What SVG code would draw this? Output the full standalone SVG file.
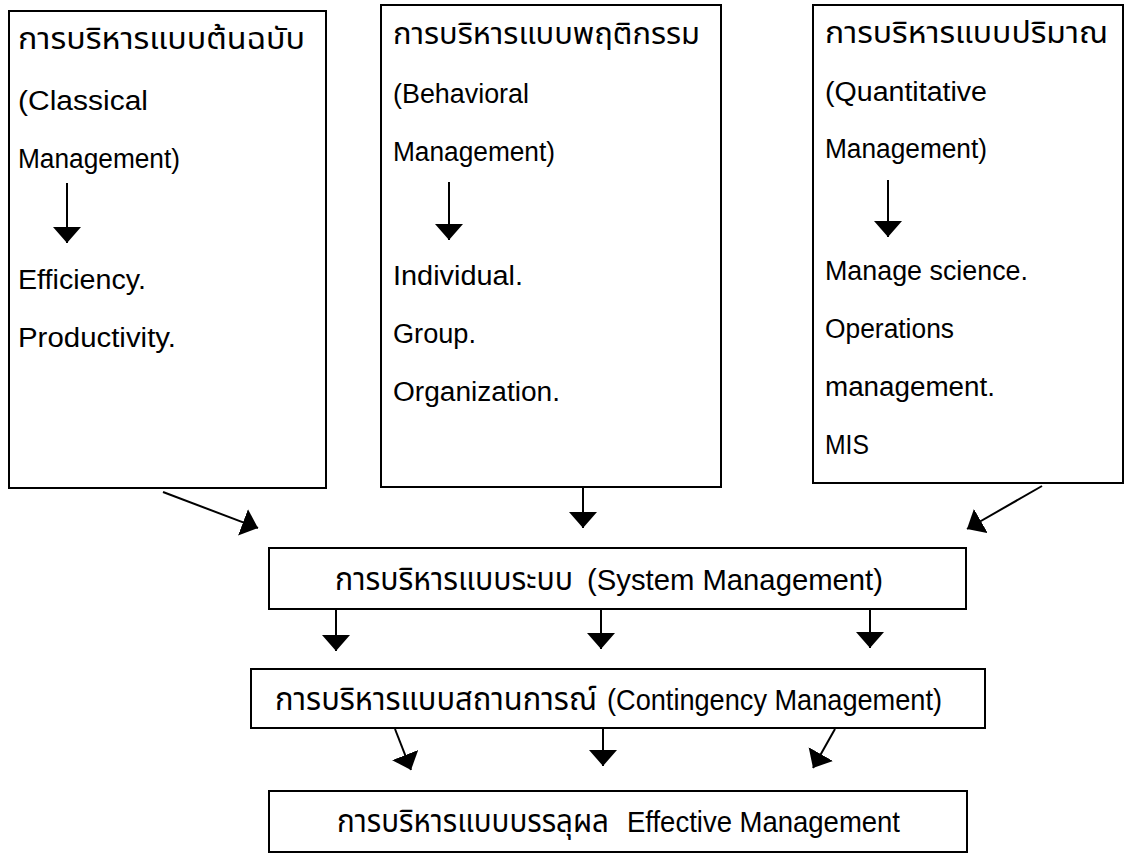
<svg xmlns="http://www.w3.org/2000/svg" width="1125" height="854" viewBox="0 0 1125 854">
  <defs>
    <style>
      .box { fill: #ffffff; stroke: #000000; stroke-width: 2; }
      .t { font-family: "Liberation Sans", "Noto Sans", sans-serif; font-size: 27px; fill: #000000; }
      .th { font-family: "Liberation Sans", "Noto Sans Thai", "Noto Sans", "DejaVu Sans", sans-serif; font-size: 31px; fill: #000000; }
      .tb { font-family: "Liberation Sans", "Noto Sans", sans-serif; font-size: 29px; fill: #000000; }
      .thb { font-family: "Liberation Sans", "Noto Sans Thai", "Noto Sans", "DejaVu Sans", sans-serif; font-size: 32px; fill: #000000; }
      .conn { stroke: #000000; stroke-width: 2; fill: none; marker-end: url(#head); }
    </style>
    <marker id="head" markerUnits="userSpaceOnUse" viewBox="0 0 16 28" refX="16" refY="14" markerWidth="16" markerHeight="28" orient="auto">
      <path d="M0,0 L16,14 L0,28 Z" fill="#000000"/>
    </marker>
  </defs>
  <rect width="1125" height="854" fill="#ffffff"/>

  <!-- top row: three schools of management -->
  <g id="classical">
    <rect class="box" x="9" y="11" width="317" height="477"/>
    <text class="th" x="18" y="49" textLength="287" lengthAdjust="spacingAndGlyphs">การบริหารแบบต้นฉบับ</text>
    <text class="t" x="18" y="110" textLength="130" lengthAdjust="spacingAndGlyphs">(Classical</text>
    <text class="t" x="18" y="168" textLength="162" lengthAdjust="spacingAndGlyphs">Management)</text>
    <text class="t" x="18" y="289" textLength="128" lengthAdjust="spacingAndGlyphs">Efficiency.</text>
    <text class="t" x="18" y="347" textLength="158" lengthAdjust="spacingAndGlyphs">Productivity.</text>
  </g>

  <g id="behavioral">
    <rect class="box" x="381" y="5" width="340" height="482"/>
    <text class="th" x="393" y="44" textLength="307" lengthAdjust="spacingAndGlyphs">การบริหารแบบพฤติกรรม</text>
    <text class="t" x="393" y="103" textLength="136" lengthAdjust="spacingAndGlyphs">(Behavioral</text>
    <text class="t" x="393" y="161" textLength="162" lengthAdjust="spacingAndGlyphs">Management)</text>
    <text class="t" x="393" y="285" textLength="130" lengthAdjust="spacingAndGlyphs">Individual.</text>
    <text class="t" x="393" y="343" textLength="83" lengthAdjust="spacingAndGlyphs">Group.</text>
    <text class="t" x="393" y="401" textLength="167" lengthAdjust="spacingAndGlyphs">Organization.</text>
  </g>

  <g id="quantitative">
    <rect class="box" x="813" y="5" width="310" height="478"/>
    <text class="th" x="825" y="43" textLength="283" lengthAdjust="spacingAndGlyphs">การบริหารแบบปริมาณ</text>
    <text class="t" x="825" y="101" textLength="162" lengthAdjust="spacingAndGlyphs">(Quantitative</text>
    <text class="t" x="825" y="158" textLength="162" lengthAdjust="spacingAndGlyphs">Management)</text>
    <text class="t" x="825" y="280" textLength="203" lengthAdjust="spacingAndGlyphs">Manage science.</text>
    <text class="t" x="825" y="338" textLength="129" lengthAdjust="spacingAndGlyphs">Operations</text>
    <text class="t" x="825" y="396" textLength="170" lengthAdjust="spacingAndGlyphs">management.</text>
    <text class="t" x="825" y="454" textLength="44" lengthAdjust="spacingAndGlyphs">MIS</text>
  </g>

  <!-- lower chain -->
  <g id="system">
    <rect class="box" x="269" y="548" width="697" height="61"/>
    <text class="thb" x="335" y="590" textLength="238" lengthAdjust="spacingAndGlyphs">การบริหารแบบระบบ</text>
    <text class="tb" x="587" y="590" textLength="296" lengthAdjust="spacingAndGlyphs">(System Management)</text>
  </g>

  <g id="contingency">
    <rect class="box" x="251" y="669" width="734" height="59"/>
    <text class="thb" x="275" y="710" textLength="322" lengthAdjust="spacingAndGlyphs">การบริหารแบบสถานการณ์</text>
    <text class="tb" x="607" y="710" textLength="335" lengthAdjust="spacingAndGlyphs">(Contingency Management)</text>
  </g>

  <g id="effective">
    <rect class="box" x="269" y="791" width="698" height="61"/>
    <text class="thb" x="337" y="832" textLength="272" lengthAdjust="spacingAndGlyphs">การบริหารแบบบรรลุผล</text>
    <text class="tb" x="627" y="832" textLength="273" lengthAdjust="spacingAndGlyphs">Effective Management</text>
  </g>

  <g id="connectors">
    <!-- inside the top boxes -->
    <line class="conn" x1="67" y1="183" x2="67" y2="243"/>
    <line class="conn" x1="449" y1="182" x2="449" y2="240"/>
    <line class="conn" x1="888" y1="180" x2="888" y2="237"/>
    <!-- top boxes to system -->
    <line class="conn" x1="163" y1="492" x2="258" y2="528"/>
    <line class="conn" x1="583" y1="488" x2="583" y2="528"/>
    <line class="conn" x1="1042" y1="486" x2="967" y2="529"/>
    <!-- system to contingency -->
    <line class="conn" x1="336" y1="610" x2="336" y2="651"/>
    <line class="conn" x1="601" y1="610" x2="601" y2="649"/>
    <line class="conn" x1="870" y1="610" x2="870" y2="648"/>
    <!-- contingency to effective -->
    <line class="conn" x1="395" y1="729" x2="411" y2="770"/>
    <line class="conn" x1="603" y1="729" x2="603" y2="766"/>
    <line class="conn" x1="835" y1="729" x2="813" y2="768"/>
  </g>
</svg>
